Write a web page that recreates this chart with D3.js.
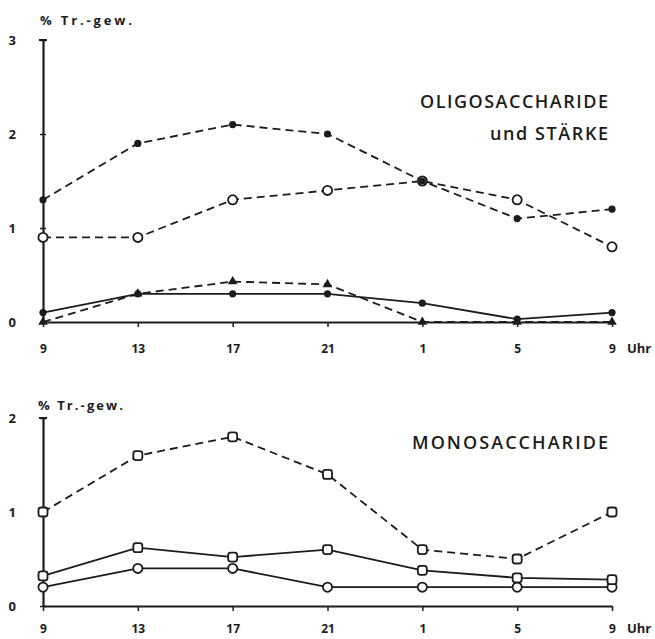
<!DOCTYPE html>
<html>
<head>
<meta charset="utf-8">
<script src="https://cdn.jsdelivr.net/npm/d3@7"></script>
<style>
  body { margin: 0; background: #fff; }
  svg text { font-family: "Open Sans", "DejaVu Sans", sans-serif; fill: #1c1c1c; }
</style>
</head>
<body>
<div id="chart"></div>
<script>
// Time of day (Uhr)
const hours = ["9", "13", "17", "21", "1", "5", "9"];

// Upper panel: Oligosaccharide und Stärke (% Tr.-gew.)
const oligoFilledDashed = [1.3, 1.9, 2.1, 2.0, 1.5, 1.1, 1.2];
const oligoOpenDashed = [0.9, 0.9, 1.3, 1.4, 1.5, 1.3, 0.8];
const staerkeTriDashed = [0, 0.3, 0.43, 0.4, 0, 0, 0];
const staerkeFilledSolid = [0.1, 0.3, 0.3, 0.3, 0.2, 0.03, 0.1];
const upperTicks = [0, 1, 2, 3];

// Lower panel: Monosaccharide (% Tr.-gew.)
const monoSquareDashed = [1.0, 1.6, 1.8, 1.4, 0.6, 0.5, 1.0];
const monoSquareSolid = [0.32, 0.62, 0.52, 0.6, 0.38, 0.3, 0.28];
const monoCircleSolid = [0.2, 0.4, 0.4, 0.2, 0.2, 0.2, 0.2];
const lowerTicks = [0, 1, 2];

const width = 655, height = 639;
const ink = '#1c1c1c';

const svg = d3.select('#chart')
    .append('svg')
    .attr('width', width)
    .attr('height', height);

const x = d3.scaleLinear()
    .domain([0, hours.length - 1])
    .range([43, 612]);

function drawPanel({ yTop, yBottom, ticks, series, title, unit, pad }) {
    const y = d3.scaleLinear()
        .domain([0, d3.max(ticks)])
        .range([yBottom, yTop]);

    const g = svg.append('g');

    // x-axis
    const xAxis = d3.axisBottom(x)
        .tickValues(d3.range(hours.length))
        .tickFormat(i => hours[i])
        .tickSize(5)
        .tickSizeOuter(0)
        .tickPadding(pad);
    const xg = g.append('g')
        .attr('transform', `translate(0,${yBottom})`)
        .call(xAxis);
    xg.select('.domain').attr('stroke', ink).attr('stroke-width', 2.2);
    xg.selectAll('.tick line').attr('stroke', ink).attr('stroke-width', 1.5);
    xg.selectAll('.tick text')
        .attr('font-size', 12).attr('font-weight', 700).style('fill', ink);

    g.append('text')
        .attr('x', x(hours.length - 1) + 15)
        .attr('y', yBottom + pad + 14)
        .attr('font-size', 13).attr('font-weight', 700)
        .text('Uhr');

    // y-axis
    const yAxis = d3.axisLeft(y)
        .tickValues(ticks)
        .tickFormat(d3.format('d'))
        .tickSize(3)
        .tickSizeOuter(0)
        .tickPadding(24);
    const yg = g.append('g')
        .attr('transform', `translate(${x(0)},0)`)
        .call(yAxis);
    yg.select('.domain').attr('stroke', ink).attr('stroke-width', 2.2);
    yg.selectAll('.tick line').attr('x2', 3).attr('x1', -3)
        .attr('stroke', ink).attr('stroke-width', 1.5);
    yg.selectAll('.tick text')
        .attr('font-size', 13).attr('font-weight', 700).style('fill', ink);
    // cap at the top of the axis
    g.append('line')
        .attr('x1', x(0) - 4).attr('x2', x(0) + 4)
        .attr('y1', y(d3.max(ticks))).attr('y2', y(d3.max(ticks)))
        .attr('stroke', ink).attr('stroke-width', 2);

    // unit label
    g.append('text')
        .attr('x', unit.x)
        .attr('y', unit.y)
        .attr('font-size', 13).attr('font-weight', 700)
        .attr('textLength', unit.w)
        .attr('lengthAdjust', 'spacing')
        .text('% Tr.-gew.');

    // title
    title.forEach(t => {
        g.append('text')
            .attr('x', 608 - t.w)
            .attr('y', t.y)
            .attr('font-size', 18)
            .attr('font-weight', 600)
            .attr('textLength', t.w)
            .attr('lengthAdjust', 'spacing')
            .text(t.text);
    });

    const line = d3.line()
        .x((d, i) => x(i))
        .y(d => y(d));

    series.forEach(s => {
        g.append('path')
            .datum(s.values)
            .attr('d', line)
            .attr('fill', 'none')
            .attr('stroke', ink)
            .attr('stroke-width', 1.8)
            .attr('stroke-dasharray', s.dashed ? '8,5' : null);
    });

    series.forEach(s => {
        const pts = g.append('g').selectAll('.pt')
            .data(s.values)
            .join('g')
            .attr('transform', (d, i) => `translate(${x(i)},${y(d)})`);
        if (s.marker === 'dot') {
            pts.append('circle').attr('r', 3.6).attr('fill', ink);
        } else if (s.marker === 'ring') {
            pts.append('circle').attr('r', 4.6)
                .attr('fill', '#fff').attr('stroke', ink).attr('stroke-width', 1.8);
        } else if (s.marker === 'tri') {
            pts.append('path').attr('d', d3.symbol(d3.symbolTriangle, 40)()).attr('fill', ink);
        } else if (s.marker === 'square') {
            pts.append('rect').attr('x', -4.5).attr('y', -4.5)
                .attr('width', 9).attr('height', 9).attr('rx', 2.5)
                .attr('fill', '#fff').attr('stroke', ink).attr('stroke-width', 1.8);
        }
    });
}

drawPanel({
    yTop: 40,
    yBottom: 322,
    ticks: upperTicks,
    pad: 17,
    unit: { x: 40, y: 25, w: 92 },
    title: [{ text: 'OLIGOSACCHARIDE', y: 108, w: 188 }, { text: 'und STÄRKE', y: 140, w: 118 }],
    series: [
        { values: staerkeFilledSolid, dashed: false, marker: 'dot' },
        { values: staerkeTriDashed, dashed: true, marker: 'tri' },
        { values: oligoOpenDashed, dashed: true, marker: 'ring' },
        { values: oligoFilledDashed, dashed: true, marker: 'dot' }
    ]
});

drawPanel({
    yTop: 418,
    yBottom: 606,
    ticks: lowerTicks,
    pad: 13,
    unit: { x: 38, y: 410, w: 85 },
    title: [{ text: 'MONOSACCHARIDE', y: 449, w: 196 }],
    series: [
        { values: monoCircleSolid, dashed: false, marker: 'ring' },
        { values: monoSquareSolid, dashed: false, marker: 'square' },
        { values: monoSquareDashed, dashed: true, marker: 'square' }
    ]
});
</script>
</body>
</html>
